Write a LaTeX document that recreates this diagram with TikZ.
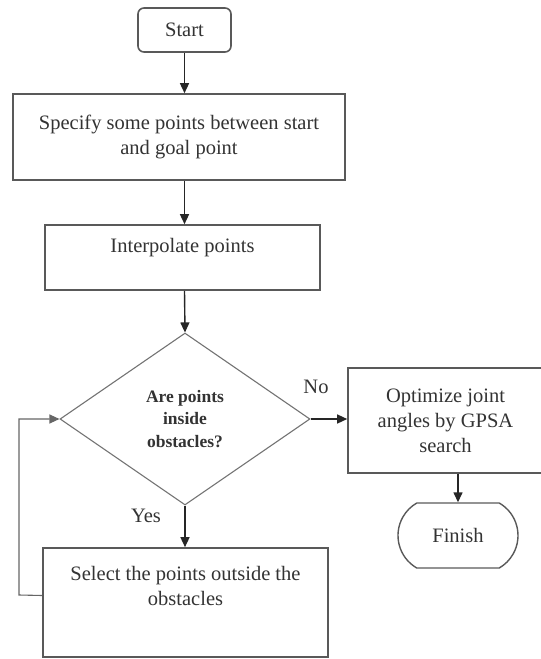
\documentclass[tikz,border=0pt]{standalone}
\usepackage{fontspec}
\setmainfont{Liberation Serif}
\usetikzlibrary{shapes.geometric,shapes.misc,arrows.meta}

\begin{document}
\begin{tikzpicture}[x=1pt,y=-1pt,
    every node/.style={font=\fontsize{20.5}{25}\selectfont, text=black!80},
    block/.style={draw=black!65, line width=1.6pt, rectangle, inner sep=0pt},
    startbox/.style={block, rounded corners=6pt},
    endbox/.style={draw=black!65, line width=1.4pt, rounded rectangle, rounded rectangle arc length=120, inner sep=0pt},
    decide/.style={draw=black!55, line width=1.1pt, diamond, align=center, inner sep=0pt,
        font=\bfseries\fontsize{17.5}{22.5}\selectfont},
    flow/.style={draw=black!85, line width=1.4pt, -{Triangle[length=10pt,width=9pt]}},
    loopback/.style={flow, draw=black!60, line width=1.1pt},
    ]
    % page frame, same size as the original
    \useasboundingbox (0,0) rectangle (541,659);

    % boxes of the main column
    \node[startbox, minimum width=93pt, minimum height=44pt] (start) at (184.5,30) {Start};
    \node[block, align=center, minimum width=332pt, minimum height=86pt] (specify) at (179,137)
        {Specify some points between start\\and goal point};
    \node[block, minimum width=275pt, minimum height=65pt] (interp) at (182.5,257.5) {};
    \node (interptext) at (182.5,248) {Interpolate points};
    \node[decide, minimum width=250pt, minimum height=172pt] (check) at (185,419)
        {Are points\\inside\\obstacles?};
    \node[block, minimum width=285pt, minimum height=109pt] (select) at (185.5,602.5) {};
    \node[align=center] (selecttext) at (185.5,586) {Select the points outside the\\obstacles};

    % right branch
    \node[block, align=center, minimum width=195pt, minimum height=105pt] (gpsa) at (445.5,420.5)
        {Optimize joint\\angles by GPSA\\search};
    \node[endbox, minimum width=120pt, minimum height=65pt] (finish) at (458,535.5) {Finish};

    % answers
    \node (nolabel) at (316,387) {No};
    \node (yeslabel) at (146,516) {Yes};

    % connectors
    \draw[flow] (start) -- (start |- specify.north);
    \draw[flow] (start |- specify.south) -- (start |- interp.north);
    \draw[flow] (start |- interp.south) -- (check.north);
    \draw[flow] (check.south) -- (check.south |- select.north);
    \draw[flow] (check.east) -- (gpsa.west |- check.east);
    \draw[flow] (finish.north |- gpsa.south) -- (finish.north);

    % back to the test
    \coordinate (back) at (19,595);
    \draw[loopback] ([yshift=7pt]select.west) -- (back) |- (check.west);
\end{tikzpicture}
\end{document}
